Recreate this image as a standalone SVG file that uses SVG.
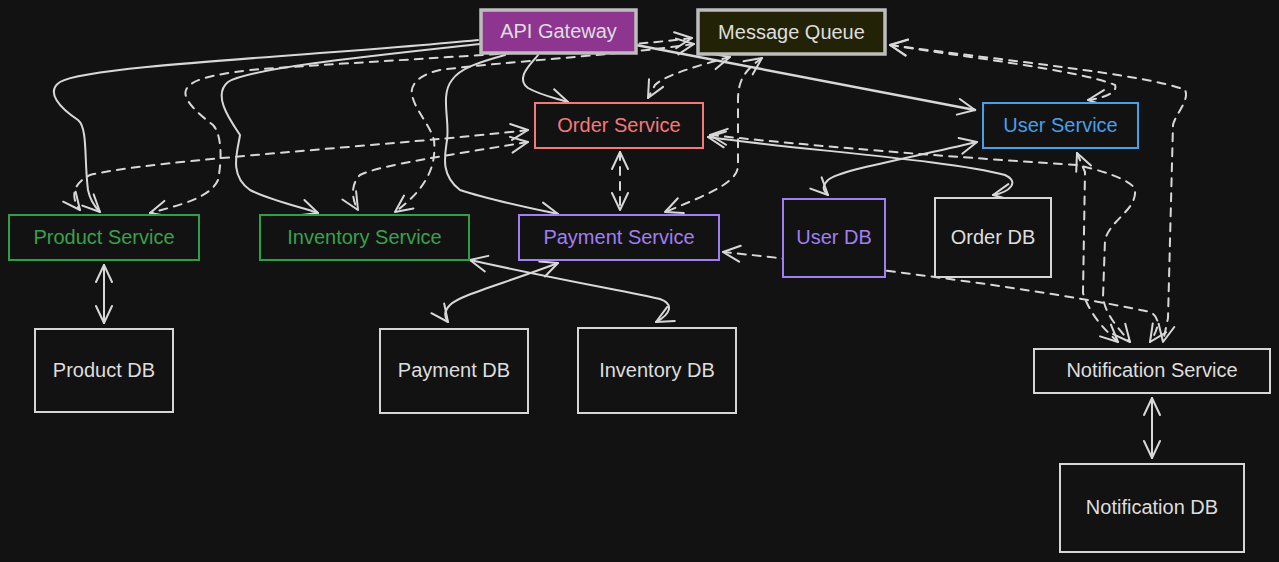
<svg xmlns="http://www.w3.org/2000/svg" width="1279" height="562" viewBox="0 0 1279 562">
<style>
  .bg{fill:#121212}
  text{font-family:"Liberation Sans",Arial,sans-serif;font-size:20px;text-anchor:middle;dominant-baseline:central}
  .box{fill:#121212;stroke-width:2}
  .gray{stroke:#d6d6d6}
  .tgray{fill:#dedede}
  .green{stroke:#2f9e44}
  .tgreen{fill:#3aa04e}
  .red{stroke:#f47a7a}
  .tred{fill:#f47a7a}
  .blue{stroke:#4a9fe6}
  .tblue{fill:#4a9fe6}
  .purple{stroke:#a07ff3}
  .tpurple{fill:#a07ff3}
  .thick{stroke:#bdbdbd;stroke-width:3.5}
  .c{fill:none;stroke:#d8d8d8;stroke-width:2;stroke-linecap:round;stroke-linejoin:round}
  .d{stroke-dasharray:8 7}
</style>
<defs>
  <marker id="ah" viewBox="-20 -11 22 22" refX="0" refY="0" markerWidth="22" markerHeight="22" markerUnits="userSpaceOnUse" orient="auto-start-reverse">
    <path d="M-17,-8 L0,0 L-17,8" fill="none" stroke="#d8d8d8" stroke-width="2" stroke-linecap="round" stroke-linejoin="round"/>
  </marker>
</defs>
<rect class="bg" x="0" y="0" width="1279" height="562"/>

<g id="connectors">
  <!-- solid -->
  <path class="c" d="M478,40 C330,55 90,65 60,82 C45,92 60,108 78,120 C88,128 84,160 88,190 C90,200 95,207 100,212" marker-end="url(#ah)"/>
  <path class="c" d="M480,44 C380,55 250,68 228,82 C212,95 230,120 240,135 C238,150 228,175 250,190 C270,200 300,207 318,213" marker-end="url(#ah)"/>
  <path class="c" d="M505,55 C480,62 460,68 452,80 C440,95 450,120 447,140 C445,155 440,175 460,190 C490,200 530,208 558,214" marker-end="url(#ah)"/>
  <path class="c" d="M538,55 C530,65 515,78 528,88 C540,95 555,98 568,102" marker-end="url(#ah)"/>
  <path class="c" d="M636,45 L975,110" marker-end="url(#ah)" style="stroke-width:2.5"/>
  <path class="c" d="M708,137 C800,150 950,160 1005,175 C1020,182 1010,192 993,195" marker-start="url(#ah)" marker-end="url(#ah)"/>
  <path class="c" d="M977,142 C900,160 840,170 828,180 C820,188 825,192 828,195" marker-start="url(#ah)" marker-end="url(#ah)"/>
  <path class="c" d="M558,263 C500,285 460,295 450,305 C443,312 445,318 448,322" marker-start="url(#ah)" marker-end="url(#ah)"/>
  <path class="c" d="M470,260 C560,280 630,292 660,299 C674,304 671,314 656,322" marker-start="url(#ah)" marker-end="url(#ah)"/>
  <path class="c" d="M104,265 L104,323" marker-start="url(#ah)" marker-end="url(#ah)"/>
  <path class="c" d="M1152,398 L1152,458" marker-start="url(#ah)" marker-end="url(#ah)"/>
  <!-- dashed -->
  <path class="c d" d="M692,38 C600,50 350,62 250,70 C210,75 190,80 186,90 C182,100 200,115 213,125 C222,135 222,160 218,180 C210,198 180,205 150,213" marker-start="url(#ah)" marker-end="url(#ah)"/>
  <path class="c d" d="M694,44 C620,55 500,62 440,70 C418,75 410,85 412,95 C415,110 430,125 434,140 C436,160 432,185 395,212" marker-start="url(#ah)" marker-end="url(#ah)"/>
  <path class="c d" d="M528,130 C400,145 150,160 90,175 C70,185 72,200 80,210" marker-start="url(#ah)" marker-end="url(#ah)"/>
  <path class="c d" d="M528,142 C450,155 380,165 360,175 C350,185 352,200 358,210" marker-start="url(#ah)" marker-end="url(#ah)"/>
  <path class="c d" d="M730,57 C700,65 665,75 655,85 L648,98" marker-start="url(#ah)" marker-end="url(#ah)"/>
  <path class="c d" d="M762,58 C745,70 738,80 738,100 L738,165 C738,180 720,190 665,212" marker-start="url(#ah)" marker-end="url(#ah)"/>
  <path class="c d" d="M620,152 L620,210" marker-start="url(#ah)" marker-end="url(#ah)"/>
  <path class="c d" d="M890,45 C950,55 1080,70 1115,85 C1118,92 1105,98 1088,100" marker-start="url(#ah)" marker-end="url(#ah)"/>
  <path class="c d" d="M890,45 C1000,60 1150,75 1185,90 C1190,100 1175,115 1173,125 L1168,318 L1163,342" marker-start="url(#ah)" marker-end="url(#ah)"/>
  <path class="c d" d="M710,135 C850,150 1000,160 1077,165 C1100,170 1133,180 1135,190 C1137,210 1110,220 1105,240 L1103,297 C1105,315 1120,330 1130,342" marker-start="url(#ah)" marker-end="url(#ah)"/>
  <path class="c d" d="M1077,153 L1085,172 L1083,293 C1090,315 1105,330 1118,342" marker-start="url(#ah)" marker-end="url(#ah)"/>
  <path class="c d" d="M723,252 C850,265 1050,290 1150,312 C1162,318 1158,330 1150,342" marker-start="url(#ah)" marker-end="url(#ah)"/>
</g>

<g id="api-gateway">
  <rect x="481" y="10" width="155" height="43" fill="#8e3590" class="thick"/>
  <text x="558.5" y="31" class="tgray">API Gateway</text>
</g>
<g id="message-queue">
  <rect x="698" y="10" width="187" height="44" fill="#222206" class="thick"/>
  <text x="791.5" y="32" class="tgray">Message Queue</text>
</g>
<g id="order-service">
  <rect x="535" y="103" width="168" height="45" class="box red"/>
  <text x="619" y="125" class="tred">Order Service</text>
</g>
<g id="user-service">
  <rect x="983" y="103" width="155" height="45" class="box blue"/>
  <text x="1060.5" y="125" class="tblue">User Service</text>
</g>
<g id="product-service">
  <rect x="9" y="215" width="190" height="45" class="box green"/>
  <text x="104" y="237" class="tgreen">Product Service</text>
</g>
<g id="inventory-service">
  <rect x="260" y="215" width="209" height="45" class="box green"/>
  <text x="364.5" y="237" class="tgreen">Inventory Service</text>
</g>
<g id="payment-service">
  <rect x="519" y="215" width="200" height="45" class="box purple"/>
  <text x="619" y="237" class="tpurple">Payment Service</text>
</g>
<g id="user-db">
  <rect x="783" y="199" width="102" height="78" class="box purple"/>
  <text x="834" y="237" class="tpurple">User DB</text>
</g>
<g id="order-db">
  <rect x="935" y="198" width="116" height="79" class="box gray"/>
  <text x="993" y="237" class="tgray">Order DB</text>
</g>
<g id="product-db">
  <rect x="35" y="329" width="138" height="83" class="box gray"/>
  <text x="104" y="370" class="tgray">Product DB</text>
</g>
<g id="payment-db">
  <rect x="380" y="329" width="148" height="84" class="box gray"/>
  <text x="454" y="370" class="tgray">Payment DB</text>
</g>
<g id="inventory-db">
  <rect x="578" y="328" width="158" height="85" class="box gray"/>
  <text x="657" y="370" class="tgray">Inventory DB</text>
</g>
<g id="notification-service">
  <rect x="1034" y="349" width="236" height="44" class="box gray"/>
  <text x="1152" y="370" class="tgray">Notification Service</text>
</g>
<g id="notification-db">
  <rect x="1060" y="464" width="184" height="88" class="box gray"/>
  <text x="1152" y="507" class="tgray">Notification DB</text>
</g>
</svg>
